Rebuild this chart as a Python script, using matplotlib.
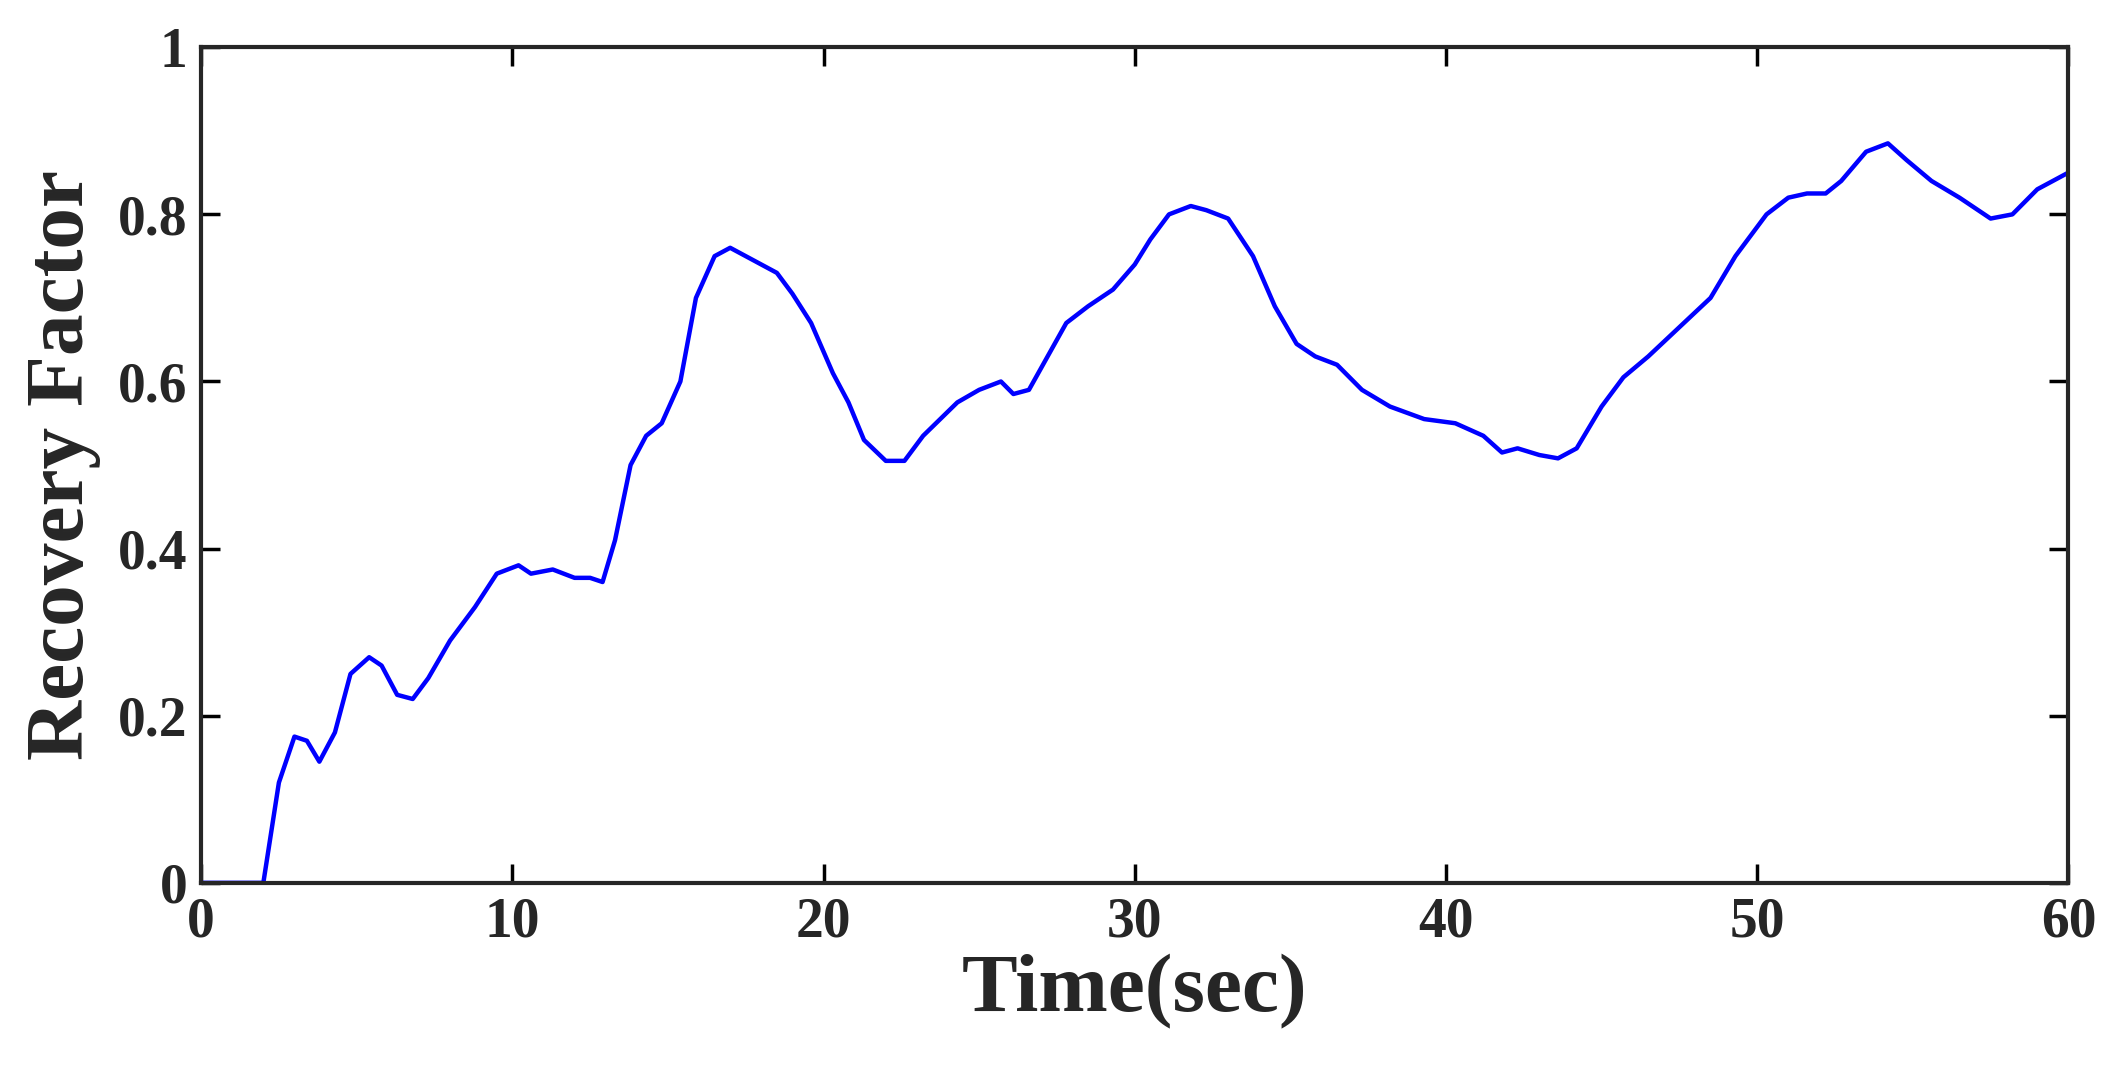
import matplotlib.pyplot as plt
import numpy as np

time_sec = [0, 2, 2.5, 3, 3.4, 3.8, 4.3, 4.8, 5.4, 5.8, 6.3, 6.8, 7.3, 8, 8.8, 9.5, 10.2, 10.6,
            11.3, 12, 12.5, 12.9, 13.3, 13.8, 14.3, 14.8, 15.4, 15.9, 16.5, 17, 17.5, 18, 18.5,
            19, 19.6, 20.3, 20.8, 21.3, 22, 22.6, 23.2, 24.3, 25, 25.7, 26.1, 26.6, 27.2, 27.8,
            28.5, 29.3, 30, 30.5, 31.1, 31.8, 32.3, 33, 33.8, 34.5, 35.2, 35.8, 36.5, 37.3,
            38.2, 39.3, 40.3, 41.2, 41.8, 42.3, 43, 43.6, 44.2, 45, 45.7, 46.5, 47.5, 48.5,
            49.3, 50.3, 51, 51.6, 52.2, 52.7, 53.5, 54.2, 54.8, 55.6, 56.5, 57.5, 58.2, 59, 60]
recovery = [0, 0, 0.12, 0.175, 0.17, 0.145, 0.18, 0.25, 0.27, 0.26, 0.225, 0.22, 0.245, 0.29,
            0.33, 0.37, 0.38, 0.37, 0.375, 0.365, 0.365, 0.36, 0.41, 0.5, 0.535, 0.55, 0.6, 0.7,
            0.75, 0.76, 0.75, 0.74, 0.73, 0.705, 0.67, 0.61, 0.575, 0.53, 0.505, 0.505, 0.535,
            0.575, 0.59, 0.6, 0.585, 0.59, 0.63, 0.67, 0.69, 0.71, 0.74, 0.77, 0.8, 0.81, 0.805,
            0.795, 0.75, 0.69, 0.645, 0.63, 0.62, 0.59, 0.57, 0.555, 0.55, 0.535, 0.515, 0.52,
            0.512, 0.508, 0.52, 0.57, 0.605, 0.63, 0.665, 0.7, 0.75, 0.8, 0.82, 0.825, 0.825,
            0.84, 0.875, 0.885, 0.865, 0.84, 0.82, 0.795, 0.8, 0.83, 0.85]

plt.rcParams['font.family'] = ['Liberation Serif', 'DejaVu Serif']
plt.rcParams['font.weight'] = 'bold'

fig = plt.figure(figsize=(21.28, 10.74), dpi=100)
ax = fig.add_axes([0.0945, 0.178, 0.8775, 0.778])
ax.plot(time_sec, recovery, color='#0000ff', linewidth=3.2,
        solid_joinstyle='round', solid_capstyle='round')

ax.set_xlim(0, 60)
ax.set_ylim(0, 1)
ax.set_xticks(np.arange(0, 61, 10))
ax.set_yticks([0, 0.2, 0.4, 0.6, 0.8, 1])
ax.set_yticklabels(['0', '0.2', '0.4', '0.6', '0.8', '1'])
ax.tick_params(direction='in', length=14, width=2.5, labelsize=40, top=True, right=True,
               pad=10, labelcolor='#262626')
for s in ax.spines.values():
    s.set_linewidth(3)
    s.set_color('#262626')
ax.set_xlabel('Time(sec)', fontsize=60, fontweight='bold', color='#262626', labelpad=4)
ax.set_ylabel('Recovery Factor', fontsize=60, fontweight='bold', color='#262626', labelpad=12)

fig.savefig('out.png', dpi=100)
